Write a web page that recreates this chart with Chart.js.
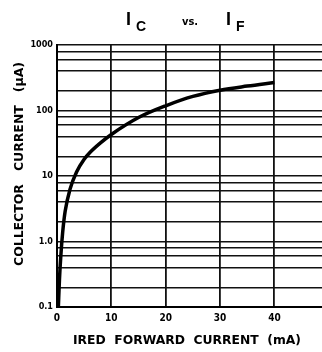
<!DOCTYPE html>
<html><head><meta charset="utf-8">
<script src="https://cdn.jsdelivr.net/npm/chart.js@4/dist/chart.umd.min.js"></script>
<style>html,body{margin:0;padding:0;background:#fff;overflow:hidden;width:322px;height:352px}#wrap{width:340px;height:352px}</style>
</head><body><div id="wrap"><canvas id="c" width="340" height="352"></canvas></div>
<script>
const forwardCurrent = [0.25, 0.45, 0.7, 1.05, 1.5, 2.4, 3.6, 5, 6.1, 8, 10, 15, 20, 25, 30, 35, 40];
const collectorCurrent = [0.1, 0.26, 0.6, 1.4, 2.9, 6.3, 11.5, 18, 23, 32, 43, 78, 118, 164, 204, 236, 268];
const xTicks = [0, 10, 20, 30, 40, 50];
const yGrid = [0.1,0.2,0.4,0.6,0.8,1,2,4,6,8,10,20,40,60,80,100,200,400,600,800,1000];
const yLabels = {0.1:'0.1', 1:'1.0', 10:'10', 100:'100', 1000:'1000'};

const FONT = '"Liberation Sans Narrow","DejaVu Sans Condensed","Liberation Sans",Arial,sans-serif';

const textPlugin = {
  id: 'texts',
  afterDraw(chart) {
    const ctx = chart.ctx;
    ctx.save();
    ctx.fillStyle = '#000';
    ctx.textBaseline = 'alphabetic';
    ctx.textAlign = 'left';
    // Title
    ctx.font = 'bold 18px "Liberation Sans",Arial,sans-serif';
    ctx.fillText('I', 126, 25);
    ctx.font = 'bold 14px "Liberation Sans",Arial,sans-serif';
    ctx.fillText('C', 136, 31);
    ctx.font = 'bold 11px ' + FONT;
    ctx.fillText('vs.', 182, 25);
    ctx.font = 'bold 18px "Liberation Sans",Arial,sans-serif';
    ctx.fillText('I', 226, 25);
    ctx.font = 'bold 14px "Liberation Sans",Arial,sans-serif';
    ctx.fillText('F', 236, 31);
    // X title
    ctx.font = 'bold 12px ' + FONT;
    ctx.textAlign = 'center';
    ctx.textBaseline = 'middle';
    let xt = 'IRED  FORWARD  CURRENT  (mA)';
    let w = ctx.measureText(xt).width;
    ctx.save();
    ctx.translate(187, 341);
    ctx.scale(228 / w, 1);
    ctx.fillText(xt, 0, 0);
    ctx.restore();
    // Y title
    let yt = 'COLLECTOR   CURRENT   (μA)';
    w = ctx.measureText(yt).width;
    ctx.save();
    ctx.translate(20, 164);
    ctx.rotate(-Math.PI / 2);
    ctx.scale(204 / w, 1);
    ctx.fillText(yt, 0, 0);
    ctx.restore();
    ctx.restore();
  }
};

new Chart(document.getElementById('c'), {
  type: 'line',
  data: {
    datasets: [{
      data: forwardCurrent.map((x, i) => ({x: x, y: collectorCurrent[i]})),
      borderColor: '#000',
      borderWidth: 3.5,
      pointRadius: 0,
      fill: false,
      cubicInterpolationMode: 'monotone'
    }]
  },
  options: {
    responsive: false,
    animation: false,
    events: [],
    layout: {padding: {left: 0, top: 45, right: 11, bottom: 0}},
    plugins: {legend: {display: false}, tooltip: {enabled: false}, title: {display: false}},
    scales: {
      x: {
        type: 'linear', min: 0, max: 50,
        afterBuildTicks: s => { s.ticks = xTicks.map(v => ({value: v})); },
        afterFit: s => { s.height = 45; },
        grid: {color: '#111', lineWidth: 1.8, drawTicks: false},
        border: {color: '#000', width: 2},
        ticks: {color: '#000', padding: 5, maxRotation: 0, font: {family: FONT, size: 10, weight: 'bold'}, callback: v => String(v)}
      },
      y: {
        type: 'logarithmic', min: 0.1, max: 1000,
        afterBuildTicks: s => { s.ticks = yGrid.map(v => ({value: v})); },
        afterFit: s => { s.width = 57; },
        grid: {color: '#111', lineWidth: 1.4, drawTicks: false},
        border: {color: '#000', width: 2},
        ticks: {color: '#000', padding: 4, autoSkip: false, font: {family: FONT, size: 9, weight: 'bold'}, callback: v => (yLabels[v] || '')}
      }
    }
  },
  plugins: [textPlugin]
});
</script></body></html>
